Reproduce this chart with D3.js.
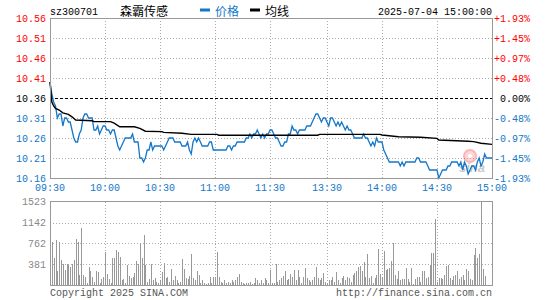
<!DOCTYPE html>
<html>
<head>
<meta charset="utf-8">
<script src="https://cdn.jsdelivr.net/npm/d3@7"></script>
<style>
  body { margin: 0; background: #fff; }
  svg text { font-family: "Liberation Mono", "DejaVu Sans Mono", monospace; font-size: 10px; }
  .cjk { font-family: "Noto Sans CJK SC", sans-serif; font-size: 12px; }
</style>
</head>
<body>
<div id="chart"></div>
<script>
// Chart data
const code = "sz300701";
const stockName = "森霸传感";
const dateTime = "2025-07-04 15:00:00";
const prevClose = 10.36;

const timeLabels = ["09:30", "10:00", "10:30", "11:00", "11:30", "13:30", "14:00", "14:30", "15:00"];
const timeIndex = [0, 30, 60, 90, 120, 151, 181, 211, 241];

const priceTicks = [10.56, 10.51, 10.46, 10.41, 10.36, 10.31, 10.26, 10.21, 10.16];
const pctTicks = ["+1.93%", "+1.45%", "+0.97%", "+0.48%", "0.00%", "-0.48%", "-0.97%", "-1.45%", "-1.93%"];
const volTicks = [1523, 1142, 762, 381];

// one price per minute (242 points)
const prices = [
  10.40,10.37,10.35,10.34,10.31,10.32,10.32,10.29,10.31,10.31,
  10.30,10.30,10.28,10.26,10.25,10.25,10.27,10.28,10.31,10.32,
  10.32,10.31,10.31,10.31,10.28,10.28,10.29,10.27,10.28,10.29,
  10.29,10.28,10.28,10.27,10.28,10.28,10.26,10.24,10.23,10.24,
  10.25,10.26,10.26,10.26,10.26,10.27,10.25,10.25,10.25,10.21,
  10.21,10.20,10.21,10.23,10.23,10.25,10.23,10.24,10.24,10.24,
  10.24,10.24,10.23,10.24,10.25,10.26,10.26,10.26,10.25,10.25,
  10.25,10.25,10.24,10.24,10.24,10.25,10.23,10.22,10.25,10.26,
  10.25,10.26,10.25,10.24,10.24,10.24,10.24,10.25,10.25,10.23,
  10.23,10.23,10.23,10.23,10.23,10.23,10.23,10.24,10.24,10.23,
  10.24,10.24,10.25,10.25,10.25,10.25,10.25,10.26,10.26,10.27,
  10.26,10.27,10.27,10.28,10.27,10.26,10.27,10.26,10.27,10.27,
  10.28,10.28,10.27,10.26,10.26,10.25,10.24,10.24,10.25,10.25,
  10.27,10.27,10.29,10.28,10.28,10.27,10.28,10.28,10.28,10.28,
  10.29,10.29,10.29,10.30,10.31,10.32,10.32,10.31,10.30,10.31,
  10.31,10.30,10.29,10.31,10.31,10.30,10.29,10.30,10.29,10.30,
  10.29,10.28,10.29,10.28,10.28,10.27,10.26,10.26,10.26,10.26,
  10.26,10.27,10.26,10.26,10.25,10.24,10.25,10.24,10.26,10.25,
  10.25,10.25,10.23,10.22,10.21,10.20,10.20,10.20,10.20,10.20,
  10.20,10.19,10.20,10.19,10.20,10.20,10.20,10.20,10.20,10.20,
  10.21,10.21,10.20,10.20,10.20,10.20,10.19,10.18,10.18,10.18,
  10.18,10.18,10.16,10.17,10.18,10.18,10.18,10.19,10.19,10.20,
  10.20,10.20,10.20,10.19,10.20,10.18,10.20,10.19,10.17,10.18,
  10.19,10.19,10.18,10.20,10.21,10.19,10.20,10.22,10.21,10.21,
  10.21,10.21
];

// average line, read at the minutes where it changes
const avgMinutes = [0, 1, 2, 3, 5, 7, 10, 12, 14, 23, 24, 33, 35, 38, 46, 49, 52, 61, 62, 72, 77,
  91, 92, 146, 147, 180, 181, 190, 202, 211, 212, 228, 231, 235, 241];
const avgValues = [10.40, 10.35, 10.34, 10.334, 10.33, 10.323, 10.319, 10.313, 10.305, 10.303, 10.301,
  10.301, 10.297, 10.288, 10.288, 10.284, 10.277, 10.276, 10.274, 10.272, 10.269,
  10.269, 10.267, 10.267, 10.269, 10.269, 10.2675, 10.263, 10.262, 10.259, 10.255,
  10.252, 10.251, 10.247, 10.244];

// volume per minute (242 bars)
const volumes = [
  103,785,495,827,266,785,465,393,284,393,
  374,332,393,465,840,797,193,1039,193,151,
  54,332,254,151,72,266,236,54,115,151,
  616,211,115,54,495,495,646,616,525,91,
  115,42,374,175,133,151,223,453,393,767,
  495,918,374,72,115,393,103,133,72,54,
  103,236,417,145,163,72,296,103,175,103,
  54,72,477,302,133,115,175,574,133,103,
  266,193,
  54,103,54,30,54,151,42,151,151,616,
  151,72,54,91,54,72,54,103,72,91,
  163,211,72,42,30,54,42,72,30,42,
  133,91,54,103,42,133,103,54,272,54,
  42,393,72,103,133,175,254,103,115,211,
  151,284,103,284,151,54,151,320,133,91,
  66,103,163,344,133,103,133,223,72,54,
  103,103,151,72,236,103,54,133,175,91,
  151,133,66,193,223,254,344,356,254,435,
  163,574,133,175,54,133,193,
  658,211,151,628,284,296,320,453,767,193,
  115,254,103,115,115,320,115,72,320,30,
  115,151,163,72,254,254,133,151,374,586,
  598,1202,72,133,133,115,193,356,374,133,
  91,175,193,254,115,163,193,103,296,254,
  115,103,556,676,495,574,1523,296,175,
  0,0,0,350
];

// Dimensions
const width = 545;
const height = 300;
const left = 50, right = 492;
const priceTop = 18, priceBottom = 178;
const volTop = 201.5, volBottom = 285.5;

const blue = "#1477c9";
const red = "#ff0000";
const gridColor = "#aaa";
const frameColor = "#999";

const svg = d3.select("#chart").append("svg")
  .attr("width", width)
  .attr("height", height);

const x = d3.scaleLinear().domain([0, 241]).range([left, right]);
const y = d3.scaleLinear().domain([10.16, 10.56]).range([priceBottom, priceTop]);
const yVol = d3.scaleLinear().domain([0, 1523]).range([volBottom, volTop]);

const px = (v) => Math.round(v) + 0.5;

// Grid: price panel
const grid = svg.append("g").attr("shape-rendering", "crispEdges");
priceTicks.forEach((t) => {
  if (t === prevClose || t === 10.56 || t === 10.16) return;
  grid.append("line")
    .attr("x1", left).attr("x2", right)
    .attr("y1", px(y(t))).attr("y2", px(y(t)))
    .attr("stroke", gridColor).attr("stroke-dasharray", "1,2");
});
timeIndex.slice(1, -1).forEach((i) => {
  grid.append("line")
    .attr("x1", px(x(i))).attr("x2", px(x(i)))
    .attr("y1", priceTop).attr("y2", priceBottom)
    .attr("stroke", gridColor).attr("stroke-dasharray", "1,2");
  grid.append("line")
    .attr("x1", px(x(i))).attr("x2", px(x(i)))
    .attr("y1", volTop).attr("y2", volBottom)
    .attr("stroke", gridColor).attr("stroke-dasharray", "1,2");
});
// Grid: volume panel
volTicks.slice(1).forEach((t) => {
  grid.append("line")
    .attr("x1", left).attr("x2", right)
    .attr("y1", px(yVol(t))).attr("y2", px(yVol(t)))
    .attr("stroke", gridColor).attr("stroke-dasharray", "1,2");
});

// previous close dashed line
grid.append("line")
  .attr("x1", left).attr("x2", right)
  .attr("y1", px(y(prevClose))).attr("y2", px(y(prevClose)))
  .attr("stroke", "#000").attr("stroke-dasharray", "3,2");

// Volume bars
svg.append("g")
  .attr("shape-rendering", "crispEdges")
  .selectAll("line")
  .data(volumes)
  .enter()
  .append("line")
  .attr("x1", (d, i) => px(x(i)))
  .attr("x2", (d, i) => px(x(i)))
  .attr("y1", volBottom)
  .attr("y2", (d) => yVol(d))
  .attr("stroke", "#999")
  .attr("stroke-width", 1);

// Watermark (sina logo)
const wm = svg.append("g").attr("opacity", 0.35);
wm.append("circle").attr("cx", 470).attr("cy", 156).attr("r", 6)
  .attr("fill", "#f88").attr("stroke", "#e33").attr("stroke-width", 2);
wm.append("circle").attr("cx", 470).attr("cy", 156).attr("r", 2).attr("fill", "#fff");
wm.append("text").attr("x", 459).attr("y", 172)
  .style("font-family", "Liberation Sans, sans-serif")
  .style("font-size", "13px").style("font-weight", "bold").style("font-style", "italic")
  .attr("fill", "#666").text("sina");

// Price line
const line = d3.line().x((d, i) => x(i)).y((d) => y(d));
svg.append("path")
  .datum(prices)
  .attr("d", line)
  .attr("fill", "none")
  .attr("stroke", blue)
  .attr("stroke-width", 1.3);

// Average line
const avgLine = d3.line().x((d) => x(d[0])).y((d) => y(d[1]));
svg.append("path")
  .datum(avgMinutes.map((m, i) => [m, avgValues[i]]))
  .attr("d", avgLine)
  .attr("fill", "none")
  .attr("stroke", "#000")
  .attr("stroke-width", 1.4);

// Frames
const frame = svg.append("g").attr("shape-rendering", "crispEdges");
frame.append("rect")
  .attr("x", left + 0.5).attr("y", priceTop + 0.5)
  .attr("width", right - left).attr("height", priceBottom - priceTop)
  .attr("fill", "none").attr("stroke", frameColor);
frame.append("rect")
  .attr("x", left + 0.5).attr("y", volTop)
  .attr("width", right - left).attr("height", volBottom - volTop)
  .attr("fill", "none").attr("stroke", frameColor);

// Left price labels
svg.append("g")
  .selectAll("text")
  .data(priceTicks)
  .enter()
  .append("text")
  .attr("x", 46)
  .attr("y", (d) => y(d))
  .attr("dy", "0.35em")
  .attr("text-anchor", "end")
  .attr("fill", (d) => (d > prevClose ? red : d < prevClose ? blue : "#000"))
  .text((d) => d.toFixed(2));

// Right percent labels
svg.append("g")
  .selectAll("text")
  .data(pctTicks)
  .enter()
  .append("text")
  .attr("x", 530)
  .attr("y", (d, i) => y(priceTicks[i]))
  .attr("dy", "0.35em")
  .attr("text-anchor", "end")
  .attr("fill", (d) => (d[0] === "+" ? red : d[0] === "-" ? blue : "#000"))
  .text((d) => d);

// Time labels
svg.append("g")
  .selectAll("text")
  .data(timeLabels)
  .enter()
  .append("text")
  .attr("x", (d, i) => x(timeIndex[i]))
  .attr("y", 191)
  .attr("text-anchor", "middle")
  .attr("fill", blue)
  .text((d) => d);

// Volume labels
svg.append("g")
  .selectAll("text")
  .data(volTicks)
  .enter()
  .append("text")
  .attr("x", 46)
  .attr("y", (d) => yVol(d))
  .attr("dy", "0.35em")
  .attr("text-anchor", "end")
  .attr("fill", "#888")
  .text((d) => d);

// Header
svg.append("text").attr("x", 50).attr("y", 15).attr("fill", "#000").text(code);
svg.append("text").attr("class", "cjk").attr("x", 120).attr("y", 15.5).attr("fill", "#000").text(stockName);

svg.append("rect").attr("x", 200).attr("y", 8.5).attr("width", 10).attr("height", 3).attr("fill", blue);
svg.append("text").attr("class", "cjk").attr("x", 215).attr("y", 15.5).attr("fill", blue).text("价格");
svg.append("rect").attr("x", 250).attr("y", 8.5).attr("width", 10).attr("height", 3).attr("fill", "#000");
svg.append("text").attr("class", "cjk").attr("x", 265).attr("y", 15.5).attr("fill", "#000").text("均线");

svg.append("text").attr("x", 492).attr("y", 15).attr("text-anchor", "end").attr("fill", "#000").text(dateTime);

// Footer
svg.append("text").attr("x", 50).attr("y", 296).attr("fill", "#555").text("Copyright 2025 SINA.COM");
svg.append("text").attr("x", 492).attr("y", 296).attr("text-anchor", "end").attr("fill", "#555").text("http://finance.sina.com.cn");
</script>
</body>
</html>
